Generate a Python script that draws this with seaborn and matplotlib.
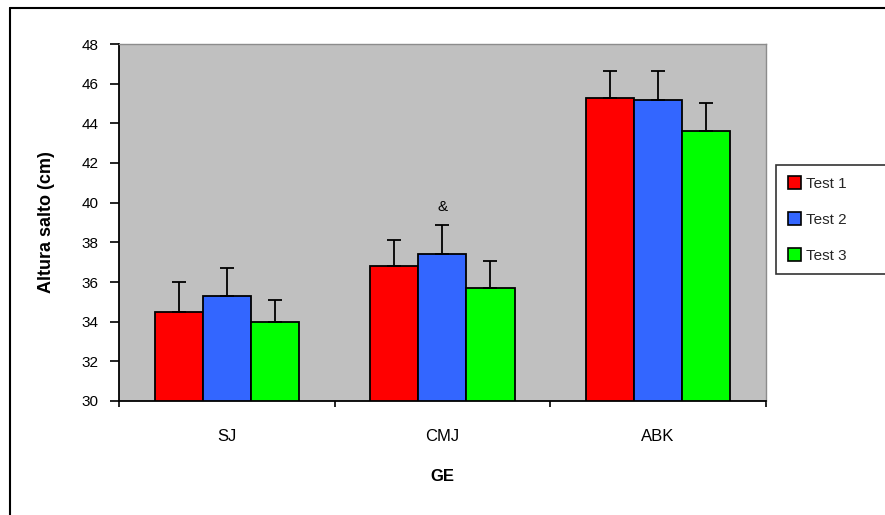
import matplotlib
matplotlib.use("Agg")
import matplotlib.pyplot as plt
from matplotlib.lines import Line2D
from matplotlib.ticker import FixedLocator
import seaborn as sns
import pandas as pd
import numpy as np

categories = ["SJ", "CMJ", "ABK"]
tests = ["Test 1", "Test 2", "Test 3"]
test1_mean = [34.5, 36.8, 45.3]
test2_mean = [35.3, 37.4, 45.2]
test3_mean = [34.0, 35.7, 43.6]
test1_sd = [1.5, 1.3, 1.35]
test2_sd = [1.4, 1.45, 1.45]
test3_sd = [1.1, 1.35, 1.45]
colors = ["#FF0000", "#3366FF", "#00FF00"]
y_ticks = [30, 32, 34, 36, 38, 40, 42, 44, 46, 48]

means = [test1_mean, test2_mean, test3_mean]
sds = [test1_sd, test2_sd, test3_sd]
rows = []
for t, m, s in zip(tests, means, sds):
    for c, mv, sv in zip(categories, m, s):
        rows.append({"GE": c, "Test": t, "value": mv, "sd": sv})
df = pd.DataFrame(rows)

sns.set_theme(style="white")
plt.rcParams["font.family"] = ["Liberation Sans", "DejaVu Sans"]

fig = plt.figure(figsize=(8.85, 5.15), dpi=100)
ax = fig.add_axes([119 / 885, 1 - 401 / 515, (765.7 - 119) / 885, (401 - 44) / 515])
ax.set_facecolor("#C0C0C0")

sns.barplot(data=df, x="GE", y="value", hue="Test", hue_order=tests,
            order=categories, palette=colors, width=0.67, errorbar=None,
            edgecolor="black", linewidth=1.3, saturation=1, ax=ax,
            legend=True)

# one-sided error bars, positioned from the bar patches
for ti, t in enumerate(tests):
    cont = ax.containers[ti]
    xs = [p.get_x() + p.get_width() / 2 for p in cont.patches]
    tops = [p.get_height() + p.get_y() for p in cont.patches]
    sd = sds[ti]
    ax.errorbar(xs, tops, yerr=[np.zeros(len(sd)), sd], fmt="none",
                ecolor="black", elinewidth=1.3, capsize=5, capthick=1.3,
                zorder=1)

# & annotation above CMJ test 2
p = ax.containers[1].patches[1]
ax.text(p.get_x() + p.get_width() / 2, test2_mean[1] + test2_sd[1] + 0.95, "&",
        ha="center", va="center", fontsize=11, color="black")

ax.set_ylim(30, 48)
ax.set_xlim(-0.5, 2.5)
ax.set_yticks(y_ticks)
ax.set_yticklabels([str(v) for v in y_ticks])
ax.tick_params(axis="y", which="major", left=True, length=6.5, width=1.2,
               color="black", labelsize=11, pad=8, labelcolor="black")
ax.tick_params(axis="x", which="major", bottom=True, length=0, pad=20,
               labelsize=12, labelcolor="black")
ax.xaxis.set_minor_locator(FixedLocator([-0.5, 0.5, 1.5, 2.5]))
ax.tick_params(axis="x", which="minor", bottom=True, length=4.5, width=1.2,
               color="black")

for side in ["left", "bottom"]:
    ax.spines[side].set_color("black")
    ax.spines[side].set_linewidth(1.3)
for side in ["top", "right"]:
    ax.spines[side].set_visible(True)
    ax.spines[side].set_color("#8C8C8C")
    ax.spines[side].set_linewidth(1.0)

ax.set_ylabel("Altura salto (cm)", fontsize=13, fontweight="bold", labelpad=19,
              color="black")
ax.set_xlabel("GE", fontsize=12, fontweight="bold", labelpad=18.5, color="black")

leg = ax.legend(loc="upper left", bbox_to_anchor=(1.016, 0.0, 0.3, 0.662),
                mode="expand", frameon=True, fancybox=False, fontsize=11,
                handlelength=0.9, handleheight=0.9, handletextpad=0.3,
                labelspacing=1.4, borderpad=0.75, borderaxespad=0)
leg.get_frame().set_edgecolor("black")
leg.get_frame().set_linewidth(1.2)
leg.get_frame().set_facecolor("white")
for h in leg.legend_handles:
    h.set_edgecolor("black")
    h.set_linewidth(1.2)

# outer chart border (top and left visible)
fig.add_artist(Line2D([9.5 / 885, 9.5 / 885], [0, 1 - 7.5 / 515],
                      transform=fig.transFigure, color="black", lw=1.5))
fig.add_artist(Line2D([9.5 / 885, 1], [1 - 7.5 / 515, 1 - 7.5 / 515],
                      transform=fig.transFigure, color="black", lw=1.5))

fig.savefig("out.png", dpi=100, facecolor="white")
